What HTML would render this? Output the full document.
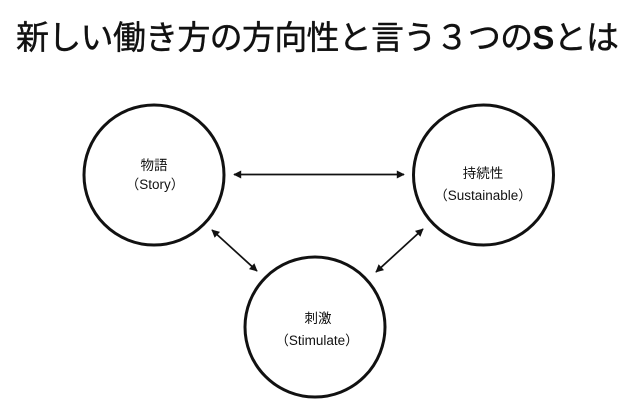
<!DOCTYPE html>
<html><head><meta charset="utf-8"><style>
html,body{margin:0;padding:0;background:#fff;}
svg{display:block;}
text{font-family:"Liberation Sans","Noto Sans CJK JP",sans-serif;fill:#111;}
</style></head><body>
<svg width="640" height="400" viewBox="0 0 640 400" xmlns="http://www.w3.org/2000/svg">
<defs>
<marker id="ah" viewBox="0 0 10 10" refX="9" refY="5" markerWidth="9" markerHeight="8" markerUnits="userSpaceOnUse" orient="auto-start-reverse">
<path d="M0,0 L10,5 L0,10 z" fill="#111"/>
</marker>
</defs>
<text x="16" y="49" font-size="33" textLength="603" lengthAdjust="spacing" stroke="#111" stroke-width="0.4">新しい働き方の方向性と言う３つの<tspan font-weight="bold" stroke-width="0">S</tspan>とは</text>

<circle cx="154" cy="175" r="70" fill="none" stroke="#111" stroke-width="3"/>
<circle cx="483.5" cy="175" r="70" fill="none" stroke="#111" stroke-width="3"/>
<circle cx="315" cy="327" r="70" fill="none" stroke="#111" stroke-width="3"/>

<line x1="234" y1="174.5" x2="404" y2="174.5" stroke="#111" stroke-width="1.7" marker-start="url(#ah)" marker-end="url(#ah)"/>
<line x1="212" y1="230" x2="257" y2="271" stroke="#111" stroke-width="1.7" marker-start="url(#ah)" marker-end="url(#ah)"/>
<line x1="423" y1="229" x2="376" y2="272" stroke="#111" stroke-width="1.7" marker-start="url(#ah)" marker-end="url(#ah)"/>

<g fill="#222">
<text x="154" y="170" font-size="13.5" text-anchor="middle">物語</text>
<text x="155" y="189" font-size="13.5" text-anchor="middle">（Story）</text>
<text x="483" y="178" font-size="13.5" text-anchor="middle">持続性</text>
<text x="483" y="200" font-size="13.5" text-anchor="middle">（Sustainable）</text>
<text x="318" y="323" font-size="13.5" text-anchor="middle">刺激</text>
<text x="317" y="345" font-size="13.5" text-anchor="middle">（Stimulate）</text>
</g>
</svg>
</body></html>
